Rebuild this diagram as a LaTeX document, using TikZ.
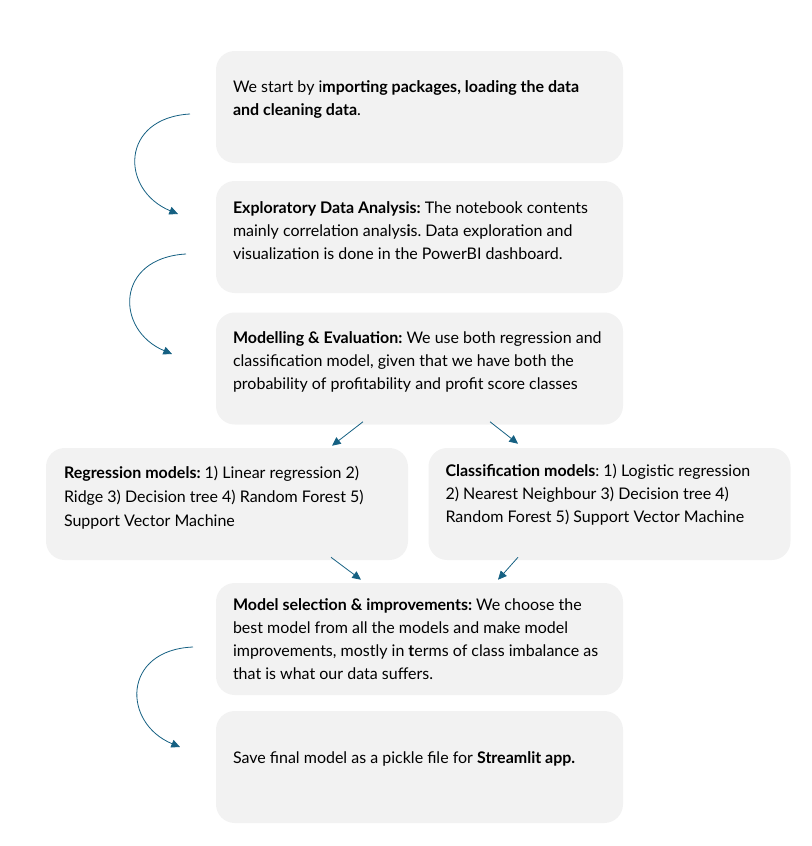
\documentclass[tikz,border=0pt]{standalone}
\usepackage{fontspec}
\setmainfont{Lato}
\usetikzlibrary{arrows.meta,positioning,calc}
\definecolor{boxgray}{HTML}{F2F2F2}
\definecolor{arrowblue}{HTML}{156082}
\frenchspacing

\begin{document}
\begin{tikzpicture}[x=0.75pt,y=-0.75pt,
box/.style={fill=boxgray,rounded corners=14pt,minimum width=305.25pt,minimum height=84pt,inner sep=0pt},
sidebox/.style={box,minimum width=271.5pt},
txt/.style={anchor=west,align=left,inner sep=0pt,font=\fontsize{12}{17.25}\selectfont},
arr/.style={-{Triangle[length=6.5pt,width=6pt]},color=arrowblue,line width=0.6pt}]
\useasboundingbox (0,0) rectangle (812,846);

% boxes
\node[box] (load) at (419.5,107) {};
\node[box] (eda) at (419.5,237) {};
\node[box] (model) at (419.5,368.5) {};
\node[sidebox] (regr) at (227,504) {};
\node[sidebox] (clf) at (609.5,504) {};
\node[box] (select) at (419.5,639) {};
\node[box] (save) at (419.5,767) {};

% texts
\node[txt] (loadtxt) at ($(load.west)+(17,-7.5)$) {We start by i\textbf{mporting packages, loading the data}\\\textbf{and cleaning data}.};
\node[txt] (edatxt) at ($(eda.west)+(17,-6)$) {\textbf{Exploratory Data Analysis:} The notebook contents\\mainly correlation analys\textbf{i}s. Data exploration and\\visualization is done in the PowerBI dashboard.};
\node[txt] (modeltxt) at ($(model.west)+(17,-7)$) {\textbf{Modelling \& Evaluation:} We use both regression and\\classification model, given that we have both the\\probability of profitability and profit score classes};
\node[txt,font=\fontsize{12}{18}\selectfont] (regrtxt) at ($(regr.west)+(18,-6)$) {\textbf{Regression models:} 1) Linear regression 2)\\Ridge 3) Decision tree 4) Random Forest 5)\\Support Vector Machine};
\node[txt] (clftxt) at ($(clf.west)+(17,-9)$) {\textbf{Classification models}: 1) Logistic regression\\2) Nearest Neighbour 3) Decision tree 4)\\Random Forest 5) Support Vector Machine};
\node[txt] (selecttxt) at ($(select.west)+(17,0)$) {\textbf{Model selection \& improvements:} We choose the\\best model from all the models and make model\\improvements, mostly in \textbf{t}erms of class imbalance as\\that is what our data suffers.};
\node[txt] (savetxt) at ($(save.west)+(17,-8)$) {Save final model as a pickle file for \textbf{Streamlit app.}};

% curved arrows on the left
\coordinate (c1a) at (190,114);
\coordinate (c1b) at (178,214);
\coordinate (c2a) at (186,254);
\coordinate (c2b) at (172,354);
\coordinate (c3a) at (193,647);
\coordinate (c3b) at (180,747);
\draw[arr] (c1a) .. controls (120,118) and (120,190) .. (c1b);
\draw[arr] (c2a) .. controls (115,258) and (115,330) .. (c2b);
\draw[arr] (c3a) .. controls (122,650) and (122,723) .. (c3b);

% split and merge
\draw[arr] ($(model.south)+(-56.5,-3)$) -- ($(regr.north)+(105,-2)$);
\draw[arr] ($(model.south)+(70.5,-3)$) -- ($(clf.north)+(-91.5,-4)$);
\draw[arr] ($(regr.south)+(104,-3)$) -- ($(select.north)+(-58.5,-3)$);
\draw[arr] ($(clf.south)+(-91.5,-3)$) -- ($(select.north)+(78.5,-3)$);
\end{tikzpicture}
\end{document}
